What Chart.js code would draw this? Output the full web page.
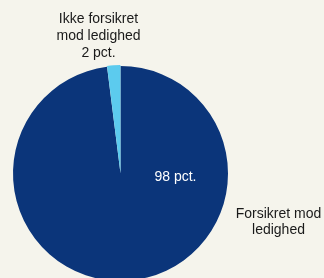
<!DOCTYPE html>
<html>
<head>
<meta charset="utf-8">
<script src="https://cdn.jsdelivr.net/npm/chart.js@4/dist/chart.umd.min.js"></script>
<style>
  html, body { margin: 0; padding: 0; background: #f5f4ec; overflow: hidden; }
  #wrap { position: relative; width: 324px; height: 290px; }
</style>
</head>
<body>
<div id="wrap"><canvas id="pie"></canvas></div>
<script>
// andel i pct.
const categories = ['Forsikret mod ledighed', 'Ikke forsikret mod ledighed']
const shares = [98, 2]
const sliceLabels = [['98 pct.'], ['Ikke forsikret', 'mod ledighed', '2 pct.']]
const outerLabels = ['Forsikret mod', 'ledighed']

const colors = ['#0b357a', '#5ccbee']

// labels drawn on top of the pie
const labelPlugin = {
    id: 'pieLabels',
    afterDatasetsDraw(chart) {
        const ctx = chart.ctx
        const arcs = chart.getDatasetMeta(0).data
        const cx = arcs[0].x, cy = arcs[0].y, r = arcs[0].outerRadius
        ctx.save()
        ctx.font = '14px "Liberation Sans", Arial, sans-serif'
        ctx.textAlign = 'center'
        ctx.textBaseline = 'middle'

        // inside the big slice
        ctx.fillStyle = '#ffffff'
        ctx.fillText(sliceLabels[0][0], cx + 55, cy + 4)

        // above the small slice
        ctx.fillStyle = '#1a1a1a'
        sliceLabels[1].forEach((t, i) => {
            ctx.fillText(t, cx - 22, cy - r - 47 + i * 17)
        })

        // right of the pie
        outerLabels.forEach((t, i) => {
            ctx.fillText(t, cx + 158, cy + 41 + i * 16)
        })
        ctx.restore()
    }
}

new Chart(document.getElementById('pie').getContext('2d'), {
    type: 'pie',
    data: {
        labels: categories,
        datasets: [{
            data: shares,
            backgroundColor: colors,
            borderWidth: 0,
            offset: [0, 2]
        }]
    },
    options: {
        responsive: true,
        maintainAspectRatio: false,
        animation: false,
        layout: {
            padding: { left: 12, right: 95, top: 65, bottom: 8 }
        },
        plugins: {
            legend: { display: false },
            tooltip: { enabled: false }
        }
    },
    plugins: [labelPlugin]
});
</script>
</body>
</html>
